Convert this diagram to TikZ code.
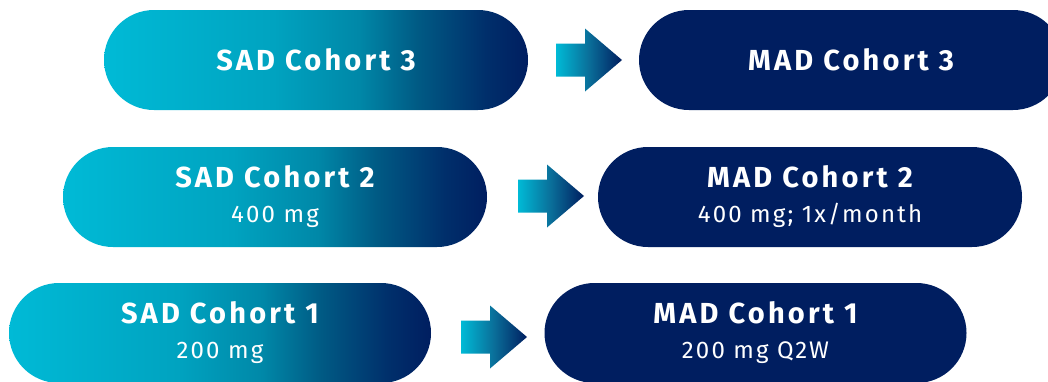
\documentclass[tikz,border=0pt]{standalone}
\usepackage{fontspec}
\setmainfont{Fira Sans}
\newfontfamily\titlefont{Fira Sans}[LetterSpace=11]
\newfontfamily\subfont{Fira Sans}[LetterSpace=9]
\definecolor{cyanA}{HTML}{00BAD6}
\definecolor{cyanB}{HTML}{00A3C0}
\definecolor{tealA}{HTML}{0088A8}
\definecolor{tealB}{HTML}{005A84}
\definecolor{navyB}{HTML}{002F6B}
\definecolor{navy}{HTML}{001E60}
\definecolor{arrowmid}{HTML}{0A6E99}
\pgfdeclarehorizontalshading{pillgrad}{100bp}{color(0bp)=(cyanA); color(25bp)=(cyanA); color(45bp)=(cyanB); color(55bp)=(tealA); color(62bp)=(tealB); color(70bp)=(navyB); color(75bp)=(navy); color(100bp)=(navy)}
\tikzset{
  pill/.style={rectangle, rounded corners=50pt, minimum width=424pt, minimum height=100pt, inner sep=0pt, text=white, align=center, font=\fontsize{29}{35}\selectfont},
  sadpill/.style={pill, shading=pillgrad},
  madpill/.style={pill, fill=navy},
  blockarrow/.style={left color=cyanA, right color=navy, middle color=arrowmid, draw=none},
}
\newcommand{\ttl}[1]{{\titlefont\bfseries\fontsize{29}{35}\selectfont #1}}
\newcommand{\sub}[1]{{\subfont\fontsize{24}{35}\selectfont #1}}
\newcommand{\barrow}[1]{%
  \shade[blockarrow] ($(#1)+(0,-16.5)$) -- ++(29,0) -- ++(0,-15) -- ++(37,31.5) -- ++(-37,31.5) -- ++(0,-15) -- ++(-29,0) -- cycle;}
\usetikzlibrary{calc}
\begin{document}
\begin{tikzpicture}[x=1pt,y=-1pt]
\clip (0,0) rectangle (1048,381);
% row 3
\node[sadpill] (sad3) at (316,60) {\ttl{SAD Cohort 3}};
\node[madpill] (mad3) at (851,60) {\ttl{MAD Cohort 3}};
% row 2
\node[sadpill] (sad2) at (275,197) {\ttl{SAD Cohort 2}\\\sub{400 mg}};
\node[madpill] (mad2) at (810,197) {\ttl{MAD Cohort 2}\\\sub{400 mg; 1x/month}};
% row 1
\node[sadpill, minimum width=422pt] (sad1) at (220,333) {\ttl{SAD Cohort 1}\\\sub{200 mg}};
\node[madpill, minimum width=422pt] (mad1) at (755.5,333) {\ttl{MAD Cohort 1}\\\sub{200 mg Q2W}};
% arrows
\coordinate (a3) at (556,60);
\coordinate (a2) at (518,196);
\coordinate (a1) at (461,337);
\barrow{a3}
\barrow{a2}
\barrow{a1}
\end{tikzpicture}
\end{document}
